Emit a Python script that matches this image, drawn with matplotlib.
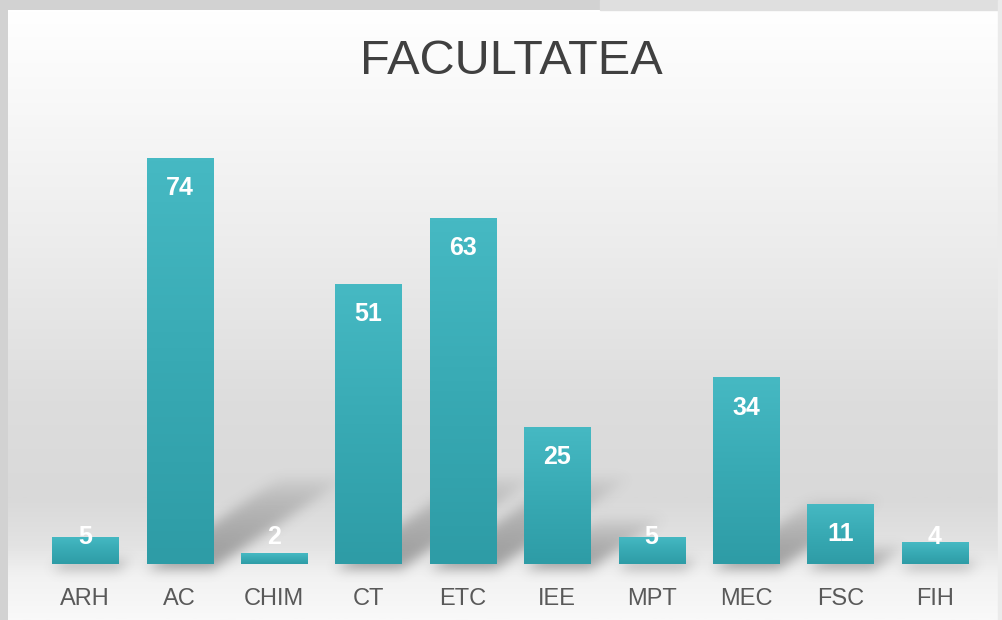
import numpy as np
import matplotlib.pyplot as plt
from matplotlib.colors import LinearSegmentedColormap
from matplotlib.patches import Rectangle

categories = ["ARH", "AC", "CHIM", "CT", "ETC", "IEE", "MPT", "MEC", "FSC", "FIH"]
values = [5, 74, 2, 51, 63, 25, 5, 34, 11, 4]
title = "FACULTATEA"

plt.rcParams["font.family"] = ["Liberation Sans", "DejaVu Sans"]

W, H = 1002, 620
fig = plt.figure(figsize=(W / 100, H / 100), dpi=100)
fig.patch.set_facecolor("#d2d2d2")
fig.patches.append(Rectangle((600 / W, 1 - 10 / H), 1, 10 / H, transform=fig.transFigure,
                             color="#dfdfdf", zorder=0))
fig.patches.append(Rectangle((998 / W, 0), 4 / W, 1, transform=fig.transFigure,
                             color="#ebebeb", zorder=0))

# panel background gradient (top -> bottom)
bg = fig.add_axes([8 / W, 0, 990 / W, 610 / H])
bg.set_axis_off()
stops = [(0.0, "#ffffff"), (0.15, "#f8f8f8"), (0.39, "#ececec"), (0.64, "#dddddd"),
         (0.80, "#d9d9d9"), (0.88, "#e3e3e3"), (0.93, "#f2f2f2"), (1.0, "#f9f9f9")]
bg_cmap = LinearSegmentedColormap.from_list("bg", stops)
grad = np.linspace(0, 1, 512).reshape(-1, 1)
bg.imshow(grad, aspect="auto", cmap=bg_cmap, extent=[0, 1, 0, 1], vmin=0, vmax=1)
bg.set_xlim(0, 1)
bg.set_ylim(0, 1)

ax = fig.add_axes([38 / W, 56 / H, 944 / W, 439 / H])
ax.patch.set_alpha(0)
x = np.arange(len(categories))
ax.set_xlim(-0.5, len(categories) - 0.5)
ax.set_ylim(0, 80)
bars = ax.bar(x, values, width=0.7, color="#3aabb6", zorder=2)

# soft diagonal shadows cast behind the bars
sh = np.zeros((H, W))
py, px = np.mgrid[0:H, 0:W]
py = H - py  # display coords, y up
for b in bars:
    (x0, y0), (x1, y1) = ax.transData.transform([(b.get_x(), 0),
                                                 (b.get_x() + b.get_width(), b.get_height())])
    hpx = y1 - y0
    L = min(135, 0.55 * hpx)
    if L < 8:
        continue
    t = (py - y0 + 4) / 0.68
    xb = px - t
    m = (t >= 0) & (t <= L) & (xb >= x0) & (xb <= x1)
    sh = np.maximum(sh, np.where(m, (1 - t / L) ** 0.6, 0))
k = np.exp(-0.5 * (np.arange(-20, 21) / 6.0) ** 2)
k /= k.sum()
sh = np.apply_along_axis(lambda r: np.convolve(r, k, mode="same"), 1, sh)
sh = np.apply_along_axis(lambda c: np.convolve(c, k, mode="same"), 0, sh)
sax = fig.add_axes([0, 0, 1, 1], zorder=0.5)
sax.set_axis_off()
rgba = np.zeros((H, W, 4))
rgba[..., :3] = 0.3
rgba[..., 3] = 0.5 * sh
sax.imshow(rgba, extent=[0, W, 0, H], aspect="auto")
sax.set_xlim(0, W)
sax.set_ylim(0, H)
ax.set_zorder(1)

bar_cmap = LinearSegmentedColormap.from_list("bar", ["#2e9ca6", "#38aab4", "#46b9c3"])
for b in bars:
    bx, by = b.get_x(), b.get_y()
    im = ax.imshow(np.linspace(0, 1, 100).reshape(-1, 1), cmap=bar_cmap, aspect="auto",
                   extent=[bx, bx + b.get_width(), by, by + b.get_height()],
                   origin="lower", zorder=3)
    im.set_clip_path(b)
ax.set_xlim(-0.5, len(categories) - 0.5)
ax.set_ylim(0, 80)

for xi, v in zip(x, values):
    ax.text(xi, max(v - 5.5, 4.9), str(v), ha="center", va="center", color="white",
            fontsize=18, fontweight="bold", zorder=4)

ax.set_xticks(x)
ax.set_xticklabels(categories, fontsize=17, color="#595959")
ax.tick_params(axis="x", length=0, pad=17)
ax.set_yticks([])
for s in ax.spines.values():
    s.set_visible(False)

fig.text(0.51, 1 - 61 / H, title, ha="center", va="center",
         fontsize=35, color="#404040")

fig.savefig("out.png", dpi=100, facecolor=fig.get_facecolor())
